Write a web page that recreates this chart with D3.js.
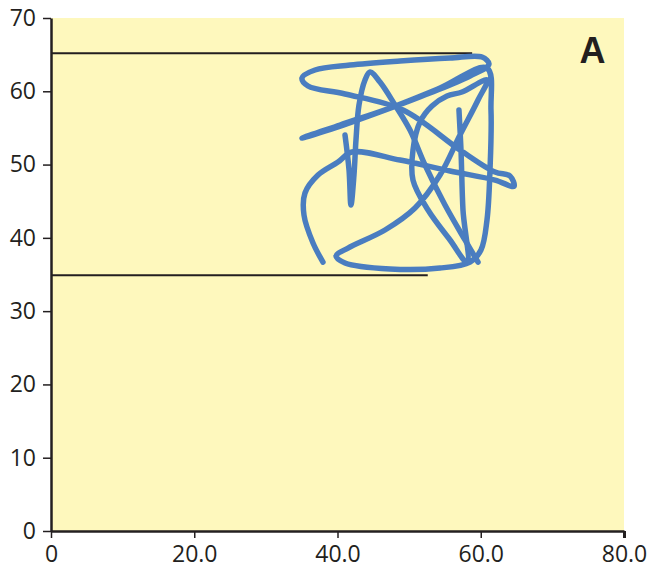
<!DOCTYPE html>
<html>
<head>
<meta charset="utf-8">
<script src="https://cdnjs.cloudflare.com/ajax/libs/d3/7.8.5/d3.min.js"></script>
<style>
  body { margin: 0; background: #fff; }
  svg { display: block; }
</style>
</head>
<body>
<svg id="chart"></svg>
<script>
// tick values and their labels
var xTicks = [0, 20, 40, 60, 80];
var xTickLabels = ['0', '20.0', '40.0', '60.0', '80.0'];
var yTicks = [0, 10, 20, 30, 40, 50, 60, 70];
var yTickLabels = ['0', '10', '20', '30', '40', '50', '60', '70'];

// horizontal reference lines: [y, xEnd]
var refLines = [[65.2, 58.8], [34.9, 52.6]];

// the scribbled trace
var traceA = [
    [37.97, 36.70], [36.58, 39.30], [35.32, 43.12], [35.46, 46.12], [37.28, 48.57],
    [40.07, 50.35], [42.02, 51.71], [48.73, 50.62], [55.71, 49.12], [61.99, 47.89],
    [64.64, 47.03], [64.08, 48.44], [61.99, 48.98], [57.10, 51.99], [49.15, 57.44],
    [41.05, 59.63], [35.88, 60.72], [35.04, 61.81], [36.86, 62.90], [41.75, 63.58],
    [48.73, 64.13], [55.71, 64.54], [60.17, 64.67], [61.15, 63.72], [58.50, 62.08],
    [52.91, 59.76], [45.93, 57.17], [39.65, 54.99], [35.04, 53.62], [40.35, 55.40],
    [47.33, 57.72], [54.31, 60.44], [60.87, 63.17], [61.43, 57.44], [61.29, 49.26],
    [60.87, 42.43], [60.03, 38.34], [58.50, 36.70], [54.31, 35.88], [47.33, 35.75],
    [41.05, 36.57], [39.79, 37.52], [41.47, 38.61], [46.63, 41.07], [50.82, 44.07],
    [54.31, 48.57], [57.10, 54.03], [59.62, 58.81], [60.87, 61.54], [57.38, 59.90],
    [55.29, 59.35], [53.19, 57.99], [51.52, 55.81], [50.54, 51.99], [50.54, 47.89],
    [52.64, 43.80], [55.71, 39.71], [58.08, 36.70], [57.52, 43.80], [57.24, 51.99],
    [56.96, 57.44]
];
var traceB = [
    [41.05, 54.03], [41.61, 49.26], [41.88, 44.48], [42.30, 48.57], [42.58, 53.35],
    [43.00, 58.13], [43.84, 61.54], [44.54, 62.63], [45.93, 61.26], [48.03, 58.13],
    [50.12, 54.71], [52.22, 49.94], [55.01, 44.48], [57.80, 39.71], [59.62, 36.70]
];

var margin = { top: 18, right: 23, bottom: 41, left: 51 },
    width = 647 - margin.left - margin.right,
    height = 572 - margin.top - margin.bottom;

var svg = d3.select('#chart')
    .attr('width', 647)
    .attr('height', 572);

var g = svg.append('g')
    .attr('transform', 'translate(' + margin.left + ',' + margin.top + ')');

var x = d3.scaleLinear().domain([0, 80]).range([0, width]);
var y = d3.scaleLinear().domain([0, 70]).range([height, 0]);

g.append('rect')
    .attr('x', 0)
    .attr('y', 0)
    .attr('width', width)
    .attr('height', height)
    .style('fill', '#fef8bd');

// reference lines
g.selectAll('.ref')
    .data(refLines)
    .enter()
    .append('line')
    .attr('x1', x(0))
    .attr('x2', function (d) { return x(d[1]); })
    .attr('y1', function (d) { return y(d[0]); })
    .attr('y2', function (d) { return y(d[0]); })
    .style('stroke', '#231f20')
    .style('stroke-width', 2);

var line = d3.line()
    .x(function (d) { return x(d[0]); })
    .y(function (d) { return y(d[1]); })
    .curve(d3.curveCatmullRom.alpha(0.5));

g.selectAll('.trace')
    .data([traceA, traceB])
    .enter()
    .append('path')
    .attr('d', line)
    .style('fill', 'none')
    .style('stroke', '#4a7dc0')
    .style('stroke-width', 5.5)
    .style('stroke-linecap', 'round')
    .style('stroke-linejoin', 'round');

// axes
var xAxis = g.append('g')
    .attr('transform', 'translate(0,' + height + ')')
    .call(d3.axisBottom(x)
        .tickValues(xTicks)
        .tickFormat(function (d, i) { return xTickLabels[i]; })
        .tickSize(7)
        .tickSizeOuter(0)
        .tickPadding(8));

var yAxis = g.append('g')
    .call(d3.axisLeft(y)
        .tickValues(yTicks)
        .tickFormat(function (d, i) { return yTickLabels[i]; })
        .tickSize(8)
        .tickSizeOuter(0)
        .tickPadding(7));

[xAxis, yAxis].forEach(function (a) {
    a.select('.domain').style('stroke', '#231f20').style('stroke-width', 2.5);
    a.selectAll('.tick line').style('stroke', '#231f20').style('stroke-width', 1.5);
    a.selectAll('.tick text')
        .style('font-family', '"Open Sans", "Noto Sans", sans-serif')
        .style('font-size', '23px')
        .style('fill', '#231f20');
});

xAxis.selectAll('.tick')
    .filter(function (d) { return d === 80; })
    .select('line')
    .style('stroke-width', 3);

g.append('text')
    .attr('x', x(75.6))
    .attr('y', y(63.8))
    .attr('text-anchor', 'middle')
    .style('font-family', '"Liberation Sans Narrow", "Liberation Sans", sans-serif')
    .style('font-weight', 'bold')
    .style('font-size', '36px')
    .style('fill', '#231f20')
    .text('A');
</script>
</body>
</html>
